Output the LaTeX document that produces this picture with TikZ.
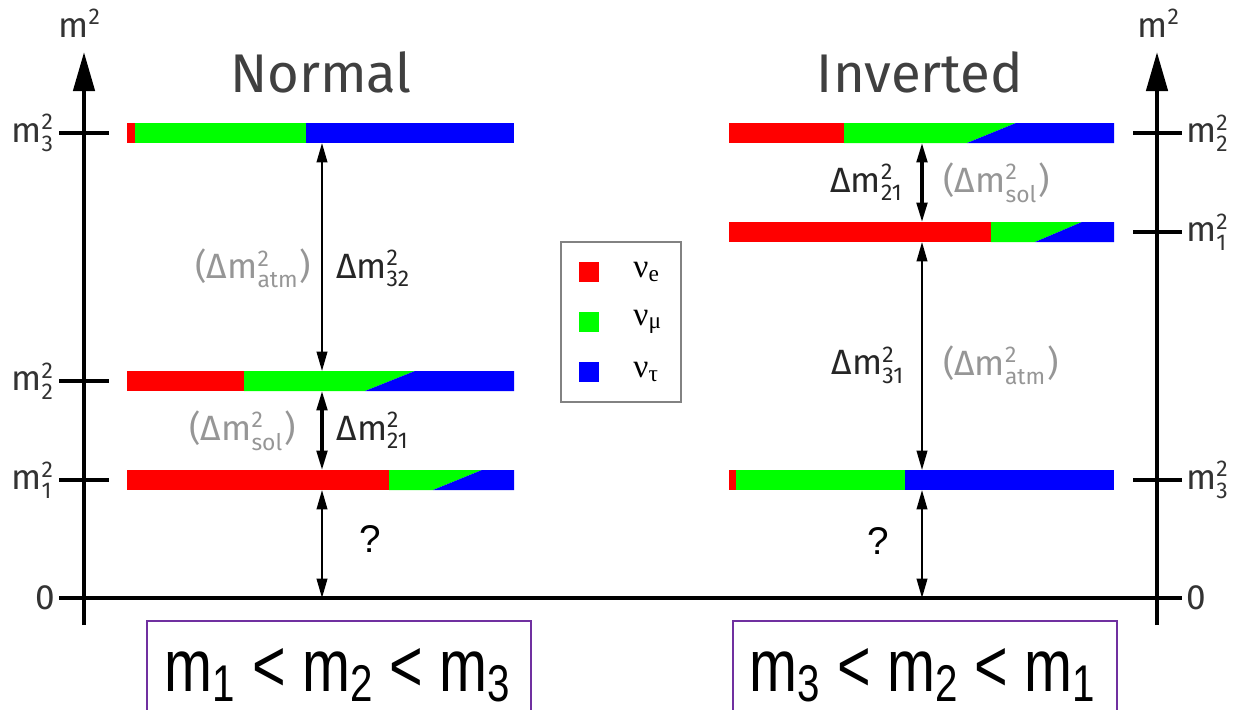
\documentclass[tikz,border=0pt]{standalone}
\usepackage{fontspec}
\setmainfont{Fira Sans}
\newfontfamily\legfont{Liberation Serif}
\newfontfamily\arialfont{Liberation Sans}
\usepackage{tikz}
\usetikzlibrary{arrows.meta, positioning}
\definecolor{nured}{RGB}{255, 0, 0}
\definecolor{numu}{RGB}{0, 255, 0}
\definecolor{nutau}{RGB}{0, 0, 255}
\definecolor{labelgray}{RGB}{150, 150, 150}
\definecolor{legendgray}{RGB}{130, 130, 130}
\definecolor{boxpurple}{RGB}{112, 48, 160}

% m^2 with a stacked index
\newcommand{\sqsub}[1]{\ensuremath{^{\mbox{\fontsize{6.5}{7}\selectfont 2}}_{\mbox{\fontsize{6.5}{7}\selectfont #1}}}}
\newcommand{\sqonly}{\ensuremath{^{\mbox{\fontsize{6.5}{7}\selectfont 2}}}}
% level bar: x0, x1, y, end of red, end of green (bottom), end of green (top)
\newcommand{\lvlbar}[6]{%
  \fill[nured] (#1,#3-0.1) rectangle (#4,#3+0.1);
  \fill[numu] (#4,#3-0.1) -- (#5,#3-0.1) -- (#6,#3+0.1) -- (#4,#3+0.1) -- cycle;
  \fill[nutau] (#5,#3-0.1) -- (#2,#3-0.1) -- (#2,#3+0.1) -- (#6,#3+0.1) -- cycle;}

\begin{document}
\begin{tikzpicture}[
      massaxis/.style={line width=1.3pt, -{Triangle[length=0.39cm, width=0.21cm]}},
      tickmark/.style={line width=1.2pt},
      gap/.style={{Triangle[length=5.5pt, width=3pt]}-{Triangle[length=5.5pt, width=3pt]}, line width=0.6pt},
      gapthick/.style={gap, line width=0.9pt},
      hiertitle/.style={font=\fontsize{15.5}{18}\selectfont, text=black!75, anchor=base},
      lvl/.style={font=\fontsize{10}{12}\selectfont, text=black!80, inner sep=1pt},
      dm/.style={font=\fontsize{10}{12}\selectfont, text=black!85, inner sep=0pt},
      dmpar/.style={dm, text=labelgray},
      qmark/.style={font=\arialfont\fontsize{11}{13}\selectfont, inner sep=0pt},
      swatch/.style={minimum size=0.2cm, inner sep=0pt},
      legtext/.style={font=\legfont\fontsize{9.5}{11}\selectfont, inner sep=0pt},
      orderbox/.style={draw=boxpurple, line width=0.8pt, minimum width=3.84cm, minimum height=1.0cm},
      ordertext/.style={font=\arialfont\fontsize{21}{24}\selectfont, anchor=base, inner sep=0pt}
  ]
    \useasboundingbox (0,0) rectangle (12.38,7.09);
    \clip (0,0) rectangle (12.38,7.09);

    % axes
    \coordinate (Lbot) at (0.84,0.84);
    \coordinate (Ltop) at (0.84,6.57);
    \coordinate (Rbot) at (11.57,0.84);
    \coordinate (Rtop) at (11.57,6.57);
    \coordinate (zl) at (0.59,1.11);
    \coordinate (zr) at (11.82,1.11);
    \draw[massaxis] (Lbot) -- (Ltop);
    \draw[massaxis] (Rbot) -- (Rtop);
    \draw[tickmark] (zl) -- (zr);
    \node[lvl, anchor=base] (Lm2) at (0.80,6.72) {m\sqonly};
    \node[lvl, anchor=base] (Rm2) at (11.59,6.72) {m\sqonly};
    \node[lvl, anchor=east] (L0) at (zl) {0};
    \node[lvl, anchor=west] (R0) at (zr) {0};

    \foreach \y/\i in {5.76/3, 3.28/2, 2.29/1} {
      \draw[tickmark] (0.59,\y) -- (1.09,\y);
      \node[lvl, anchor=east] (Lm\i) at (0.59,\y) {m\sqsub{\i}};
    }
    \foreach \y/\i in {5.76/2, 4.77/1, 2.29/3} {
      \draw[tickmark] (11.33,\y) -- (11.82,\y);
      \node[lvl, anchor=west] (Rm\i) at (11.82,\y) {m\sqsub{\i}};
    }

    % titles
    \node[hiertitle] (normal) at (3.21,6.17) {Normal};
    \node[hiertitle] (inverted) at (9.20,6.17) {Inverted};

    % normal ordering
    \lvlbar{1.27}{5.14}{5.76}{1.35}{3.06}{3.06}
    \lvlbar{1.27}{5.14}{3.28}{2.44}{3.65}{4.15}
    \lvlbar{1.27}{5.14}{2.29}{3.89}{4.33}{4.82}
    \coordinate (N3lo) at (3.22,5.66);
    \coordinate (N2hi) at (3.22,3.38);
    \coordinate (N2lo) at (3.22,3.18);
    \coordinate (N1hi) at (3.22,2.39);
    \coordinate (N1lo) at (3.22,2.19);
    \coordinate (N0) at (3.22,1.11);
    \draw[gap] (N3lo) -- (N2hi)
      node[dmpar, pos=0.55, left=0.1cm] (atmN) {(Δm\sqsub{atm})}
      node[dm, pos=0.55, right=0.13cm] (d32) {Δm\sqsub{32}};
    \draw[gapthick] (N2lo) -- (N1hi)
      node[dmpar, pos=0.5, left=0.25cm] (solN) {(Δm\sqsub{sol})}
      node[dm, pos=0.5, right=0.13cm] (d21N) {Δm\sqsub{21}};
    \draw[gap] (N1lo) -- (N0)
      node[qmark, pos=0.45, right=0.36cm] (qN) {?};

    % inverted ordering
    \lvlbar{7.29}{11.14}{5.76}{8.44}{9.67}{10.16}
    \lvlbar{7.29}{11.14}{4.77}{9.91}{10.35}{10.82}
    \lvlbar{7.29}{11.14}{2.29}{7.36}{9.05}{9.05}
    \coordinate (I2lo) at (9.22,5.66);
    \coordinate (I1hi) at (9.22,4.87);
    \coordinate (I1lo) at (9.22,4.67);
    \coordinate (I3hi) at (9.22,2.39);
    \coordinate (I3lo) at (9.22,2.19);
    \coordinate (I0) at (9.22,1.11);
    \draw[gapthick] (I2lo) -- (I1hi)
      node[dm, pos=0.5, left=0.17cm] (d21I) {Δm\sqsub{21}}
      node[dmpar, pos=0.5, right=0.2cm] (solI) {(Δm\sqsub{sol})};
    \draw[gap] (I1lo) -- (I3hi)
      node[dm, pos=0.54, left=0.16cm] (d31) {Δm\sqsub{31}}
      node[dmpar, pos=0.54, right=0.2cm] (atmI) {(Δm\sqsub{atm})};
    \draw[gap] (I3lo) -- (I0)
      node[qmark, pos=0.47, left=0.32cm] (qI) {?};

    % legend
    \node[draw=legendgray, line width=0.6pt, minimum width=1.2cm, minimum height=1.6cm] (legend) at (6.21,3.87) {};
    \node[swatch, fill=nured] (sw-e) at (5.89,4.37) {};
    \node[swatch, fill=numu] (sw-mu) at (5.89,3.87) {};
    \node[swatch, fill=nutau] (sw-tau) at (5.89,3.37) {};
    \node[legtext, right=0.33cm of sw-e] (lab-e) {ν\textsubscript{e}};
    \node[legtext, right=0.33cm of sw-mu] (lab-mu) {ν\textsubscript{μ}};
    \node[legtext, right=0.33cm of sw-tau] (lab-tau) {ν\textsubscript{τ}};

    % mass orderings
    \node[orderbox] (ordN) at (3.39,0.38) {};
    \node[orderbox] (ordI) at (9.25,0.38) {};
    \node[ordertext] (ineqN) at (3.38,0.18) {\scalebox{0.78}[1]{m\textsubscript{1} < m\textsubscript{2} < m\textsubscript{3}}};
    \node[ordertext] (ineqI) at (9.23,0.18) {\scalebox{0.78}[1]{m\textsubscript{3} < m\textsubscript{2} < m\textsubscript{1}}};
  \end{tikzpicture}
\end{document}
